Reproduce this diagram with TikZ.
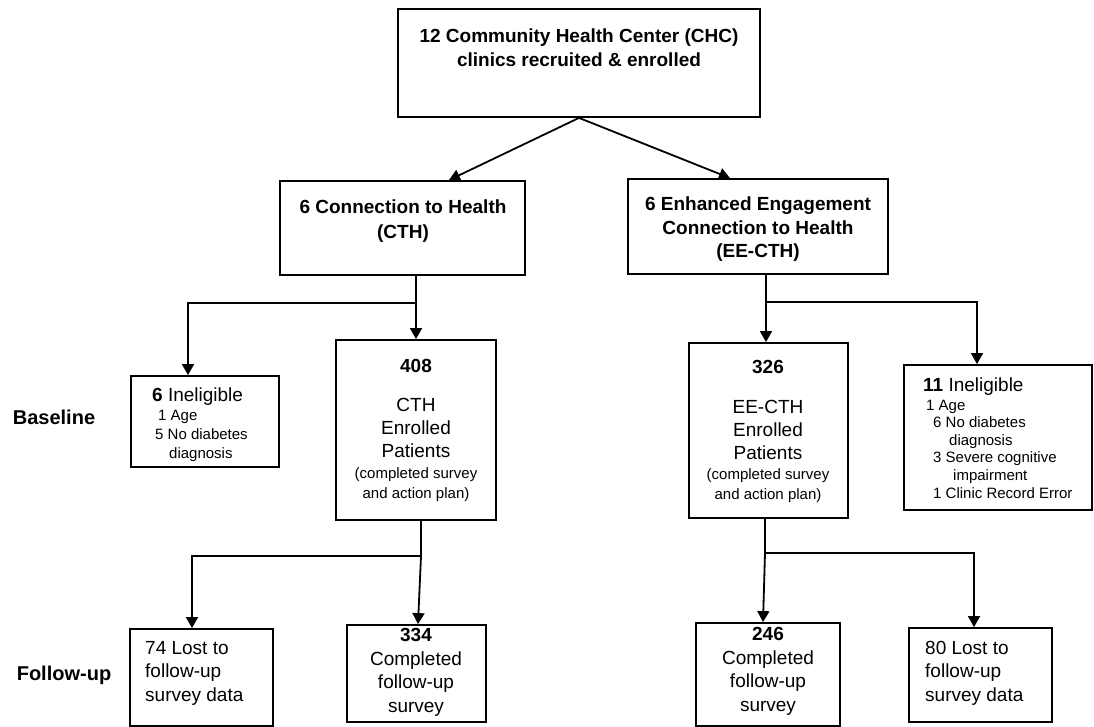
\documentclass[tikz,border=0pt]{standalone}
\usepackage{fontspec}
\setmainfont{Liberation Sans}
\usetikzlibrary{arrows.meta}
\tikzset{
  box/.style={draw, line width=1.8pt, inner sep=0pt},
  ln/.style={line width=1.8pt},
  arr/.style={line width=1.8pt, -{Triangle[length=11pt,width=12pt]}},
  hb/.style={font=\bfseries\fontsize{19}{24}\selectfont, inner sep=0pt, align=center},
  big/.style={font=\fontsize{19}{23.5}\selectfont, inner sep=0pt},
  small/.style={font=\fontsize{15}{19.5}\selectfont, inner sep=0pt},
  tiny/.style={font=\fontsize{15}{17.6}\selectfont, inner sep=0pt},
  side/.style={font=\bfseries\fontsize{20}{24}\selectfont, inner sep=0pt, anchor=base}
}
\begin{document}
\begin{tikzpicture}[x=1pt,y=-1pt]
\useasboundingbox (0,0) rectangle (1094,727);

% boxes
\node[box, minimum width=362pt, minimum height=108pt] (top) at (579,63) {};
\node[box, minimum width=245pt, minimum height=94pt] (cth) at (402.5,228) {};
\node[box, minimum width=260pt, minimum height=95pt] (ee) at (758,226.5) {};
\node[box, minimum width=148pt, minimum height=91pt] (inel1) at (205,421.5) {};
\node[box, minimum width=160pt, minimum height=180pt] (p408) at (416,430) {};
\node[box, minimum width=159pt, minimum height=175pt] (p326) at (768.5,430.5) {};
\node[box, minimum width=188pt, minimum height=145pt] (inel2) at (998,437.5) {};
\node[box, minimum width=143pt, minimum height=97pt] (lost74) at (201.5,677.5) {};
\node[box, minimum width=139pt, minimum height=97pt] (c334) at (416.5,673.5) {};
\node[box, minimum width=144pt, minimum height=103pt] (c246) at (768,674.5) {};
\node[box, minimum width=143pt, minimum height=94pt] (lost80) at (980.5,675) {};

% texts
\node[hb, anchor=north] (toptxt) at (579,29) {12 Community Health Center (CHC)\\clinics recruited \& enrolled};
\node[hb, anchor=north, font=\bfseries\fontsize{19}{25}\selectfont] (cthtxt) at (403,200) {6 Connection to Health\\(CTH)};
\node[hb, anchor=north, font=\bfseries\fontsize{19}{23.5}\selectfont] (eetxt) at (758,197) {6 Enhanced Engagement\\Connection to Health\\(EE-CTH)};

\node[big, anchor=north west] (in1a) at (152,388) {\textbf{6} Ineligible};
\node[small, anchor=north west, align=left, font=\fontsize{15}{19}\selectfont] (in1b) at (155,409.6) {\hspace*{3pt}1 Age\\5 No diabetes\\\hspace*{14pt}diagnosis};

\node[hb, anchor=north] (n408) at (416,359) {408};
\node[big, anchor=north, align=center, font=\fontsize{19}{23}\selectfont] (t408) at (416,398) {CTH\\Enrolled\\Patients};
\node[small, anchor=north, align=center] (s408) at (416,467.5) {(completed survey\\and action plan)};

\node[hb, anchor=north] (n326) at (768,360) {326};
\node[big, anchor=north, align=center, font=\fontsize{19}{23}\selectfont] (t326) at (768,400) {EE-CTH\\Enrolled\\Patients};
\node[small, anchor=north, align=center] (s326) at (768,468.5) {(completed survey\\and action plan)};

\node[big, anchor=north west] (in2a) at (923,378) {\textbf{11} Ineligible};
\node[tiny, anchor=north west, align=left] (in2b) at (926,399.6) {1 Age\\\hspace*{7pt}6 No diabetes\\\hspace*{23pt}diagnosis\\\hspace*{7pt}3 Severe cognitive\\\hspace*{27pt}impairment\\\hspace*{7pt}1 Clinic Record Error};

\node[big, anchor=north west, align=left] (t74) at (145,641) {74 Lost to\\follow-up\\survey data};
\node[big, anchor=north, align=center, font=\fontsize{19}{23.7}\selectfont] (t334) at (416,628) {\textbf{334}\\Completed\\follow-up\\survey};
\node[big, anchor=north, align=center, font=\fontsize{19}{23.7}\selectfont] (t246) at (768,627) {\textbf{246}\\Completed\\follow-up\\survey};
\node[big, anchor=north west, align=left] (t80) at (925,641) {80 Lost to\\follow-up\\survey data};

\node[side] (lbase) at (54,424) {Baseline};
\node[side] (lfup) at (64,680) {Follow-up};

% connectors
\draw[arr] (top.south) -- ([xshift=46.5pt]cth.north);
\draw[arr] (top.south) -- ([xshift=-28pt]ee.north);

\coordinate (j1) at (416,303);
\draw[ln] (cth.south -| j1) -- (j1);
\draw[arr] (j1) -| ([xshift=-17pt]inel1.north);
\draw[arr] (j1) -- (p408.north);

\coordinate (j2) at (421,556);
\draw[ln] (p408.south -| j2) -- (j2);
\draw[arr] (j2) -| ([xshift=-9.5pt]lost74.north);
\draw[arr] (j2) -- ([xshift=1.5pt]c334.north);

\coordinate (j3) at (766,302);
\draw[ln] (ee.south -| j3) -- (j3);
\draw[arr] (j3) -- (p326.north -| j3);
\draw[arr] (j3) -| ([xshift=-21pt]inel2.north);

\coordinate (j4) at (765,553);
\draw[ln] (p326.south -| j4) -- (j4);
\draw[arr] (j4) -- ([xshift=-5pt]c246.north);
\draw[arr] (j4) -| ([xshift=-6.5pt]lost80.north);
\end{tikzpicture}
\end{document}
